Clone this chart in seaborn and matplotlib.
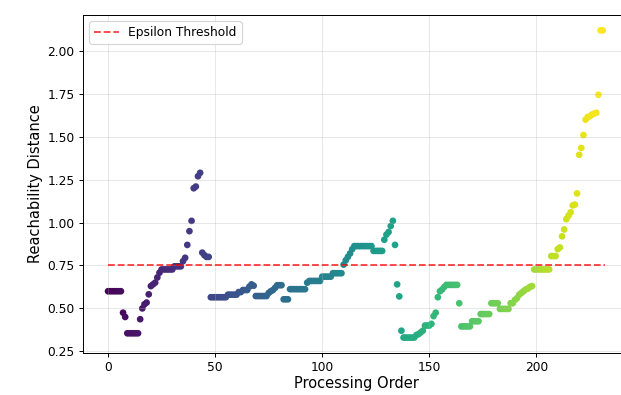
import numpy as np
import pandas as pd
import matplotlib
matplotlib.use("Agg")
import matplotlib.pyplot as plt
import seaborn as sns

# OPTICS reachability distances, in processing order, split by cluster region
cluster_a = [0.60, 0.60, 0.60, 0.60, 0.60, 0.60, 0.60,
             0.475, 0.45,
             0.355, 0.355, 0.355, 0.355, 0.355, 0.355,
             0.437, 0.50, 0.524, 0.534, 0.582, 0.63, 0.64, 0.65, 0.68, 0.708,
             0.727, 0.727, 0.727, 0.727, 0.727, 0.727,
             0.745, 0.745, 0.745, 0.745,
             0.775, 0.795, 0.87, 0.95, 1.01, 1.20, 1.21, 1.27, 1.29,
             0.825, 0.81, 0.80, 0.80]

cluster_b = [0.565, 0.565, 0.565, 0.565, 0.565, 0.565, 0.565, 0.565,
             0.58, 0.58, 0.58, 0.58, 0.58,
             0.595, 0.595,
             0.607, 0.607, 0.607,
             0.627, 0.64, 0.632,
             0.572, 0.572, 0.572, 0.572, 0.572, 0.572,
             0.59, 0.60, 0.607, 0.62,
             0.635, 0.635, 0.635,
             0.553, 0.553, 0.553,
             0.612, 0.612, 0.612, 0.612, 0.612, 0.612, 0.612, 0.612,
             0.65,
             0.66, 0.66, 0.66, 0.66, 0.66, 0.66,
             0.685, 0.685, 0.685, 0.685, 0.685,
             0.705, 0.705, 0.705, 0.705, 0.705]

cluster_c = [0.755, 0.78, 0.80, 0.82, 0.845,
             0.863, 0.863, 0.863, 0.863, 0.863, 0.863, 0.863, 0.863, 0.863,
             0.835, 0.835, 0.835, 0.835, 0.835,
             0.90, 0.93, 0.945, 0.98, 1.01, 0.87, 0.64, 0.57, 0.37]

cluster_d = [0.33, 0.33, 0.33, 0.33, 0.33, 0.33,
             0.345, 0.35, 0.36, 0.37,
             0.40, 0.40, 0.40,
             0.41, 0.455, 0.475, 0.565, 0.60, 0.61, 0.625,
             0.637, 0.637, 0.637, 0.637, 0.637, 0.637,
             0.53,
             0.395, 0.395, 0.395, 0.395, 0.395,
             0.425, 0.425, 0.425, 0.425,
             0.467, 0.467, 0.467, 0.467, 0.467,
             0.53, 0.53, 0.53, 0.53,
             0.497, 0.497, 0.497, 0.497, 0.497,
             0.53, 0.53,
             0.55, 0.56, 0.58, 0.59, 0.60, 0.61, 0.615, 0.625, 0.63]

cluster_e = [0.727, 0.727, 0.727, 0.727, 0.727, 0.727, 0.727, 0.727,
             0.805, 0.805, 0.805,
             0.845, 0.855, 0.92, 0.96, 1.02, 1.04, 1.06, 1.10, 1.105, 1.17,
             1.395, 1.435, 1.51, 1.60, 1.615, 1.62, 1.63, 1.635, 1.64,
             1.745, 2.12, 2.12]

epsilon = 0.75

reachability = np.concatenate([cluster_a, cluster_b, cluster_c, cluster_d, cluster_e])
order = np.arange(len(reachability))
df = pd.DataFrame({"order": order, "reach": reachability})

DPI = 88
fig = plt.figure(figsize=(621 / DPI, 395 / DPI), dpi=DPI)
ax = fig.add_axes([0.134, 0.1065, 0.880, 0.8555])

sns.scatterplot(data=df, x="order", y="reach", hue="order", palette="viridis",
                s=30, linewidth=0, legend=False, ax=ax)
ax.plot([0, len(reachability)], [epsilon, epsilon], linestyle="--", color="red",
        alpha=0.75, linewidth=1.5, label="Epsilon Threshold")

ax.set_xlabel("Processing Order", fontsize=12, labelpad=2)
ax.set_ylabel("Reachability Distance", fontsize=12)
ax.tick_params(axis="x", pad=3)
ax.grid(True, alpha=0.3)
ax.legend(loc="upper left")

fig.savefig("out.png", dpi=DPI)
